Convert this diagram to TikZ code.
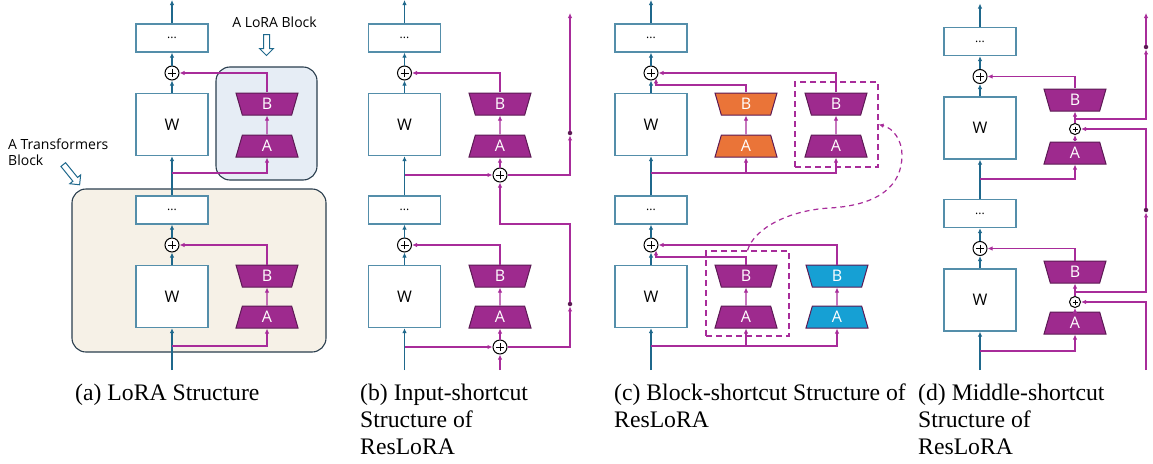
\documentclass[tikz,border=0pt]{standalone}
\usepackage{fontspec}
\setmainfont{Liberation Serif}
\newfontfamily\uifont{Open Sans}
\usetikzlibrary{arrows.meta,shapes.geometric,shapes.arrows}

\definecolor{mainblue}{RGB}{31,104,140}
\definecolor{boxblue}{RGB}{84,142,170}
\definecolor{loracol}{RGB}{168,44,154}
\definecolor{trapfill}{RGB}{158,42,142}
\definecolor{trapedge}{RGB}{92,26,84}
\definecolor{orangefill}{RGB}{234,116,56}
\definecolor{cyanfill}{RGB}{22,160,212}
\definecolor{frameedge}{RGB}{42,62,78}
\definecolor{lorabg}{RGB}{230,237,245}
\definecolor{transbg}{RGB}{246,241,231}

\tikzset{
  mainline/.style={draw=mainblue,line width=1.4pt},
  loraline/.style={draw=loracol,line width=1.2pt},
  wbox/.style={draw=boxblue,fill=white,line width=1.3pt,minimum width=72pt,minimum height=62pt,
    inner sep=0pt,font=\uifont\fontsize{16}{18}\selectfont},
  dotbox/.style={wbox,minimum height=28pt,font=\uifont\fontsize{12}{14}\selectfont},
  plusnode/.style={circle,draw=black,fill=white,line width=1pt,minimum size=14pt,inner sep=0pt,
    path picture={\draw[line width=1pt]
      ([yshift=-3pt]path picture bounding box.north) -- ([yshift=3pt]path picture bounding box.south)
      ([xshift=3pt]path picture bounding box.west) -- ([xshift=-3pt]path picture bounding box.east);}},
  smallplus/.style={plusnode,minimum size=11pt},
  trapA/.style={trapezium,trapezium angle=61,trapezium stretches body,minimum width=62pt,
    minimum height=22pt,inner sep=0pt,draw=trapedge,fill=trapfill,line width=1pt,text=white,
    font=\uifont\fontsize{16}{18}\selectfont},
  trapB/.style={trapA,shape border rotate=180},
  mydot/.style={circle,fill=trapedge,inner sep=0pt,minimum size=4.5pt},
  frame/.style={draw=frameedge,line width=1.1pt,rounded corners=14pt,inner sep=0pt},
  dashbox/.style={draw=loracol,dash pattern=on 6pt off 4pt,line width=1.1pt,minimum width=83pt,
    minimum height=85pt,inner sep=0pt},
  hollowarrow/.style={single arrow,draw=mainblue,fill=white,line width=1pt,minimum height=21pt,
    inner sep=2.5pt,single arrow head extend=4pt,single arrow head indent=0pt},
  labeltext/.style={font=\uifont\fontsize{14}{16}\selectfont,inner sep=0pt,align=left},
  caption/.style={anchor=north west,align=left,inner sep=0pt,font=\fontsize{23.7}{27}\selectfont}
}

\begin{document}
\begin{tikzpicture}[x=1pt,y=-1pt,>={Latex[length=5pt,width=4.5pt]}]
  \useasboundingbox (0,0) rectangle (1153,463);

  % frames of panel (a)
  \node[frame,fill=lorabg,minimum width=101pt,minimum height=113pt] (lorablock) at (266.5,123.5) {};
  \node[frame,fill=transbg,minimum width=254pt,minimum height=163pt] (transblock) at (199,270.5) {};
  \node[labeltext] (loralabel) at (274.5,22) {A LoRA Block};
  \node[hollowarrow,rotate=-90] (loraarrow) at (266.5,43.5) {};
  \node[labeltext,anchor=west] (translabel) at (8,152) {A Transformers\\Block};
  \node[hollowarrow,rotate=-51,minimum height=26pt] (transarrow) at (70.5,173.5) {};

  % main columns
  \foreach \p/\x/\dy/\ya/\yb in {a/172/0/173/346, b/404.5/0/175/347, c/651/0/173/346, d/980/3.5/179/351}{
    \node[dotbox] (\p dots1) at (\x,38+\dy) {...};
    \node[plusnode] (\p plus1) at (\x,73+\dy) {};
    \node[wbox] (\p w1) at (\x,124.5+\dy) {W};
    \node[dotbox] (\p dots2) at (\x,210+\dy) {...};
    \node[plusnode] (\p plus2) at (\x,245+\dy) {};
    \node[wbox] (\p w2) at (\x,296.5+\dy) {W};
    \coordinate (\p top) at (\x,\dy);
    \coordinate (\p bot) at (\x,370);
    \coordinate (\p br1) at (\x,\ya);
    \coordinate (\p br2) at (\x,\yb);
    \draw[mainline,->] (\p dots1) -- (\p top);
    \draw[mainline,->] (\p plus1) -- (\p dots1);
    \draw[mainline,->] (\p w1) -- (\p plus1);
    \draw[mainline,->] (\p dots2) -- (\p w1);
    \draw[mainline,->] (\p plus2) -- (\p dots2);
    \draw[mainline,->] (\p w2) -- (\p plus2);
    \draw[mainline,->] (\p bot) -- (\p w2);
  }

  % (a) LoRA
  \node[trapB] (aB1) at (267,104) {B};
  \node[trapA] (aA1) at (267,146) {A};
  \node[trapB] (aB2) at (267,276) {B};
  \node[trapA] (aA2) at (267,317) {A};
  \draw[loraline,->] (abr1) -| (aA1);
  \draw[loraline,->] (aA1) -- (aB1);
  \draw[loraline,->] (aB1) |- (aplus1);
  \draw[loraline,->] (abr2) -| (aA2);
  \draw[loraline,->] (aA2) -- (aB2);
  \draw[loraline,->] (aB2) |- (aplus2);

  % (b) input shortcut
  \node[trapB] (bB1) at (500,104) {B};
  \node[trapA] (bA1) at (500,146) {A};
  \node[plusnode] (bsum1) at (500,175) {};
  \node[trapB] (bB2) at (500,276) {B};
  \node[trapA] (bA2) at (500,317) {A};
  \node[plusnode] (bsum2) at (500,347) {};
  \node[mydot] (bdot1) at (570,133) {};
  \node[mydot] (bdot2) at (570,304) {};
  \coordinate (btopR) at (570,13);
  \coordinate (bturn) at (500,224);
  \coordinate (bbotL) at (500,370);
  \draw[loraline,->] (bbr1) -- (bsum1);
  \draw[loraline,->] (bsum1) -- (bA1);
  \draw[loraline,->] (bA1) -- (bB1);
  \draw[loraline,->] (bB1) |- (bplus1);
  \draw[loraline,->] (bsum1) -| (bdot1);
  \draw[loraline,->] (bdot1) -- (btopR);
  \draw[loraline,->] (bbr2) -- (bsum2);
  \draw[loraline,->] (bbotL) -- (bsum2);
  \draw[loraline,->] (bsum2) -- (bA2);
  \draw[loraline,->] (bA2) -- (bB2);
  \draw[loraline,->] (bB2) |- (bplus2);
  \draw[loraline,->] (bsum2) -| (bdot2);
  \draw[loraline,->] (bdot2) |- (bturn) -- (bsum1);

  % (c) block shortcut
  \node[dashbox] (cbox1) at (836.5,124.5) {};
  \node[dashbox] (cbox2) at (747.5,293.5) {};
  \node[trapB,fill=orangefill] (cBo1) at (746,104) {B};
  \node[trapA,fill=orangefill] (cAo1) at (746,146) {A};
  \node[trapB] (cB1) at (836,104) {B};
  \node[trapA] (cA1) at (836,146) {A};
  \node[trapB] (cB2) at (746,276) {B};
  \node[trapA] (cA2) at (746,317) {A};
  \node[trapB,fill=cyanfill] (cBc2) at (837,276) {B};
  \node[trapA,fill=cyanfill] (cAc2) at (837,317) {A};
  \coordinate (cjoin1) at (656,85);
  \coordinate (cjoin2) at (656,257);
  \draw[loraline,->] (cbr1) -| (cA1);
  \draw[loraline,->] (cbr1 -| cAo1) -- (cAo1);
  \draw[loraline,->] (cAo1) -- (cBo1);
  \draw[loraline,->] (cA1) -- (cB1);
  \draw[loraline,->] (cBo1) |- (cjoin1) -- (cjoin1 |- cplus1.-45);
  \draw[loraline,->] (cB1) |- (cplus1);
  \draw[loraline,->] (cbr2) -| (cAc2);
  \draw[loraline,->] (cbr2 -| cA2) -- (cA2);
  \draw[loraline,->] (cA2) -- (cB2);
  \draw[loraline,->] (cAc2) -- (cBc2);
  \draw[loraline,->] (cB2) |- (cjoin2) -- (cjoin2 |- cplus2.-45);
  \draw[loraline,->] (cBc2) |- (cplus2);
  \draw[loraline,dash pattern=on 5pt off 4pt,->] (cbox2.north) .. controls (754,228) and (790,210) .. (830,208)
    .. controls (880,205) and (902,185) .. (902,155) .. controls (902,140) and (893,128) .. (cbox1.east);

  % (d) middle shortcut
  \node[trapB] (dB1) at (1075,100) {B};
  \node[smallplus] (dsum1) at (1075,129) {};
  \node[trapA] (dA1) at (1075,153) {A};
  \node[trapB] (dB2) at (1075,272) {B};
  \node[smallplus] (dsum2) at (1075,302) {};
  \node[trapA] (dA2) at (1075,323) {A};
  \node[mydot] (ddot1) at (1146,47) {};
  \node[mydot] (ddot2) at (1146,210) {};
  \coordinate (dout1) at (1075,119);
  \coordinate (dout2) at (1075,292);
  \coordinate (dtopR) at (1146,13);
  \coordinate (dbotR) at (1146,370);
  \draw[loraline,->] (dbr1) -| (dA1);
  \draw[loraline,->] (dA1) -- (dsum1);
  \draw[loraline,->] (dsum1) -- (dB1);
  \draw[loraline,->] (dB1) |- (dplus1);
  \draw[loraline,->] (dout1) -| (ddot1);
  \draw[loraline,->] (ddot1) -- (dtopR);
  \draw[loraline,->] (dbr2) -| (dA2);
  \draw[loraline,->] (dA2) -- (dsum2);
  \draw[loraline,->] (dsum2) -- (dB2);
  \draw[loraline,->] (dB2) |- (dplus2);
  \draw[loraline,->] (dout2) -| (ddot2);
  \draw[loraline,->] (ddot2) |- (dsum1);
  \draw[loraline,->] (dbotR) |- (dsum2);

  % captions
  \node[caption] (capa) at (75,384) {(a) LoRA Structure};
  \node[caption] (capb) at (360,384) {(b) Input-shortcut\\Structure of\\ResLoRA};
  \node[caption] (capc) at (614,384) {(c) Block-shortcut Structure of\\ResLoRA};
  \node[caption] (capd) at (918,384) {(d) Middle-shortcut\\Structure of\\ResLoRA};
\end{tikzpicture}
\end{document}
